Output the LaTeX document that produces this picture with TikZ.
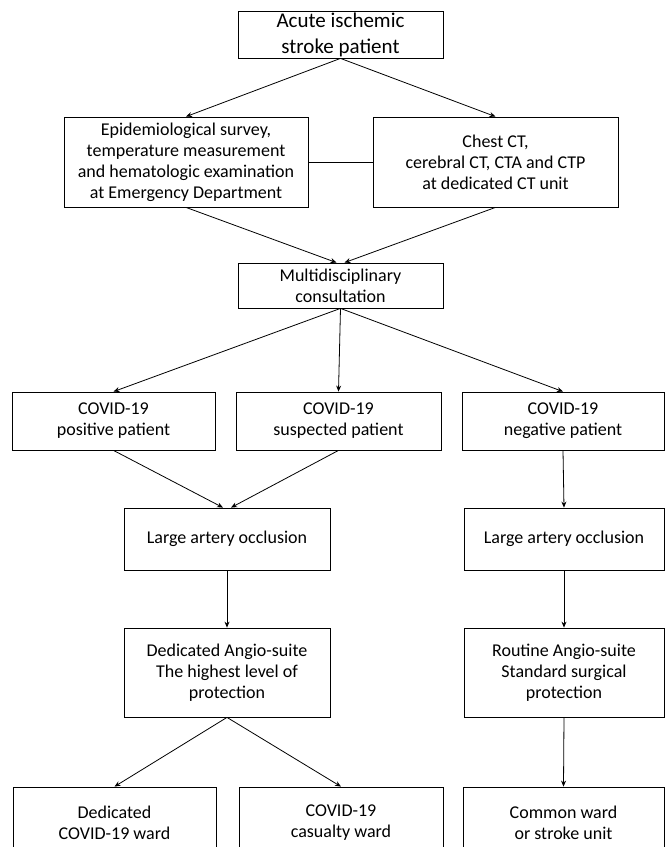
\documentclass[tikz,border=0pt]{standalone}
\usepackage{fontspec}
\setmainfont{Carlito}
\usetikzlibrary{arrows.meta}

\begin{document}
\begin{tikzpicture}[
        x = 1pt, y = -1pt, % pixel grid, y axis pointing down
        > = {Stealth[length=6pt, width=5pt]}, % arrow head style
        line width = 0.8pt, % line style
    ]

    \tikzstyle{box}=[
        draw = black,
        align = center,
        inner sep = 0pt,
        font = \fontsize{18}{21}\selectfont
    ]

    \useasboundingbox (0,0) rectangle (665,847);
    \clip (0,0) rectangle (665,847);
    \fill[white] (0,0) rectangle (665,847);

    \node[box, minimum width=205, minimum height=47, font=\fontsize{21}{26}\selectfont] (acute) at (340.5,34.5) {Acute ischemic\\stroke patient};
    \node[box, minimum width=244, minimum height=90] (epi) at (186,162) {Epidemiological survey,\\temperature measurement\\and hematologic examination\\at Emergency Department};
    \node[box, minimum width=245, minimum height=90] (chest) at (495.5,162) {Chest CT,\\cerebral CT, CTA and CTP\\at dedicated CT unit};
    \node[box, minimum width=205, minimum height=45] (multi) at (340.5,285.5) {Multidisciplinary\\consultation};

    \node[box, minimum width=203, minimum height=58] (pos) at (113.5,421) {COVID-19\\positive patient};
    \node[box, minimum width=205, minimum height=58] (susp) at (338.5,421) {COVID-19\\suspected patient};
    \node[box, minimum width=202, minimum height=58] (neg) at (563,421) {COVID-19\\negative patient};

    \node[box, minimum width=206, minimum height=62] (laoL) at (227,539) {Large artery occlusion};
    \node[box, minimum width=200, minimum height=62] (laoR) at (564,539) {Large artery occlusion};

    \node[box, minimum width=206, minimum height=89] (dedi) at (227,672.5) {Dedicated Angio-suite\\The highest level of\\protection};
    \node[box, minimum width=200, minimum height=89] (rout) at (564,672.5) {Routine Angio-suite\\Standard surgical\\protection};

    \node[box, minimum width=203, minimum height=72] (wardA) at (114.5,823) {Dedicated\\COVID-19 ward};
    \node[box, minimum width=204, minimum height=72] (wardB) at (341,823) {COVID-19\\casualty ward};
    \node[box, minimum width=201, minimum height=72] (wardC) at (563.5,823) {Common ward\\or stroke unit};

    \draw[->] (acute.south) -- (epi.north);
    \draw[->] (acute.south) -- (chest.north);
    \draw (epi.east) -- (chest.west);
    \draw[->] (epi.south) -- ([xshift=-4pt]multi.north);
    \draw[->] (chest.south) -- ([xshift=4pt]multi.north);
    \draw[->] (multi.south) -- (pos.north);
    \draw[->] (multi.south) -- (susp.north);
    \draw[->] (multi.south) -- (neg.north);
    \draw[->] (pos.south) -- ([xshift=-4pt]laoL.north);
    \draw[->] (susp.south) -- ([xshift=4pt]laoL.north);
    \draw[->] (neg.south) -- (laoR.north);
    \draw[->] (laoL.south) -- (dedi.north);
    \draw[->] (laoR.south) -- (rout.north);
    \draw[->] (dedi.south) -- (wardA.north);
    \draw[->] (dedi.south) -- (wardB.north);
    \draw[->] (rout.south) -- (wardC.north);
\end{tikzpicture}
\end{document}
